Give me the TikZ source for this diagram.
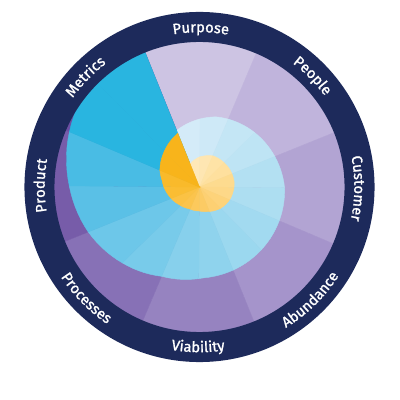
\documentclass[tikz,border=0pt]{standalone}
\usepackage{fontspec}
\newfontfamily\lblfamily{Fira Sans}[FakeBold=1.2]
\usetikzlibrary{decorations.text}
\definecolor{navy}{HTML}{1D2A5B}
% purple band
\definecolor{p0}{HTML}{CDC4E3}\definecolor{p1}{HTML}{C0B4DC}\definecolor{p2}{HTML}{B2A4D3}\definecolor{p3}{HTML}{A594CB}
\definecolor{p4}{HTML}{9683C0}\definecolor{p5}{HTML}{8771B6}\definecolor{p6}{HTML}{775CA9}\definecolor{p7}{HTML}{6C4EA2}
% cyan band
\definecolor{c0}{HTML}{D4EBF8}\definecolor{c1}{HTML}{C4E6F5}\definecolor{c2}{HTML}{B3E0F2}\definecolor{c3}{HTML}{A2DAF0}
\definecolor{c4}{HTML}{8FD3ED}\definecolor{c5}{HTML}{78CBEA}\definecolor{c6}{HTML}{5AC0E6}\definecolor{c7}{HTML}{29B5E0}
% yellow band
\definecolor{y0}{HTML}{FEE8B8}\definecolor{y1}{HTML}{FEE3A6}\definecolor{y2}{HTML}{FDDB8F}\definecolor{y3}{HTML}{FDD37A}
\definecolor{y4}{HTML}{FCCB64}\definecolor{y5}{HTML}{FBC44D}\definecolor{y6}{HTML}{FABD33}\definecolor{y7}{HTML}{F8B41B}
\pgfmathdeclarefunction{yr}{1}{\pgfmathparse{(#1<22)*(25+5*#1/22)
+(#1>=22)*(#1<46)*(30+4*(#1-22)/24)
+(#1>=46)*(#1<82)*(34+1*(#1-46)/36)
+(#1>=82)*(#1<105)*(35)
+(#1>=105)*(#1<132)*(35-2*(#1-105)/27)
+(#1>=132)*(#1<157)*(33-3*(#1-132)/25)
+(#1>=157)*(#1<182)*(30-4*(#1-157)/25)
+(#1>=182)*(#1<202)*(26-2*(#1-182)/20)
+(#1>=202)*(#1<227)*(24)
+(#1>=227)*(#1<252)*(24+3*(#1-227)/25)
+(#1>=252)*(#1<277)*(27+5*(#1-252)/25)
+(#1>=277)*(#1<302)*(32+6*(#1-277)/25)
+(#1>=302)*(#1<315)*(38+5*(#1-302)/13)
+(#1>=315)*(#1<337)*(43+7*(#1-315)/22)
+(#1>=337)*(50+8*(#1-337)/23)}}
\pgfmathdeclarefunction{cyr}{1}{\pgfmathparse{(#1<35)*(61+11*#1/35)
+(#1>=35)*(#1<112)*(72+13*(#1-35)/77)
+(#1>=112)*(#1<200)*(85+6*(#1-112)/88)
+(#1>=200)*(#1<225)*(91+6*(#1-200)/25)
+(#1>=225)*(#1<247)*(97+11*(#1-225)/22)
+(#1>=247)*(#1<270)*(108+12*(#1-247)/23)
+(#1>=270)*(#1<292)*(120+10*(#1-270)/22)
+(#1>=292)*(#1<310)*(130+9*(#1-292)/18)
+(#1>=310)*(#1<325)*(139+7*(#1-310)/15)
+(#1>=325)*(146)}}
\newcommand\lblfont{\lblfamily\fontsize{10.5}{12}\selectfont}
\begin{document}
\begin{tikzpicture}[x=0.025cm,y=0.025cm,
  ringlabel/.style={decorate, decoration={text along path, text align=center, text color=white, text={|\lblfont|#1}}}]
\useasboundingbox (-199.5,-213) rectangle (200.5,187);
% purple sectors
\foreach \k in {0,...,7}{
  \pgfmathsetmacro\a{112-45*\k}
  \pgfmathsetmacro\b{67-45*\k}
  \fill[fill=p\k, draw=p\k, line width=0.3pt] (0,0) -- (\a:3.66cm) arc[start angle=\a, end angle=\b, radius=3.66cm] -- cycle;
}
% cyan spiral
\foreach \j in {0,...,15}{
  \pgfmathtruncatemacro\k{floor(\j/2)}
  \pgfmathtruncatemacro\kn{min(\k+1,7)}
  \pgfmathtruncatemacro\odd{mod(\j,2)}
  \pgfmathsetmacro\ua{22.5*\j}
  \pgfmathsetmacro\ub{22.5*(\j+1)}
  \ifnum\odd=1 \def\cc{c\k!65!c\kn}\else\def\cc{c\k}\fi
  \fill[fill=\cc, draw=\cc, line width=0.3pt] (0,0) -- plot[domain=\ua:\ub, samples=8, variable=\u] ({112-\u}:{cyr(\u)}) -- cycle;
}
% yellow spiral
\foreach \j in {0,...,15}{
  \pgfmathtruncatemacro\k{floor(\j/2)}
  \pgfmathtruncatemacro\kn{min(\k+1,7)}
  \pgfmathtruncatemacro\odd{mod(\j,2)}
  \pgfmathsetmacro\ua{22.5*\j}
  \pgfmathsetmacro\ub{22.5*(\j+1)}
  \ifnum\odd=1 \def\cc{y\k!65!y\kn}\else\def\cc{y\k}\fi
  \fill[fill=\cc, draw=\cc, line width=0.3pt] (0,0) -- plot[domain=\ua:\ub, samples=8, variable=\u] ({112-\u}:{yr(\u)}) -- cycle;
}
% navy ring
\fill[navy, even odd rule] (0,0) circle (4.375cm) (0,0) circle (3.625cm);
% labels (clockwise, tops outward)
\path[ringlabel=Purpose]  (129.5:3.87cm) arc[start angle=129.5, end angle=49.5, radius=3.87cm];
\path[ringlabel=People]   (84.5:3.87cm) arc[start angle=84.5, end angle=4.5, radius=3.87cm];
\path[ringlabel=Customer] (39.5:3.87cm) arc[start angle=39.5, end angle=-40.5, radius=3.87cm];
\path[ringlabel=Product]  (219.5:3.87cm) arc[start angle=219.5, end angle=139.5, radius=3.87cm];
\path[ringlabel=Metrics]  (176:3.87cm) arc[start angle=176, end angle=96, radius=3.87cm];
% labels (counter-clockwise, tops inward)
\path[ringlabel=Abundance] (-85.5:4.13cm) arc[start angle=-85.5, end angle=-5.5, radius=4.13cm];
\path[ringlabel=Viability] (-130.5:4.13cm) arc[start angle=-130.5, end angle=-50.5, radius=4.13cm];
\path[ringlabel=Processes] (-175.5:4.13cm) arc[start angle=-175.5, end angle=-95.5, radius=4.13cm];
\end{tikzpicture}
\end{document}
